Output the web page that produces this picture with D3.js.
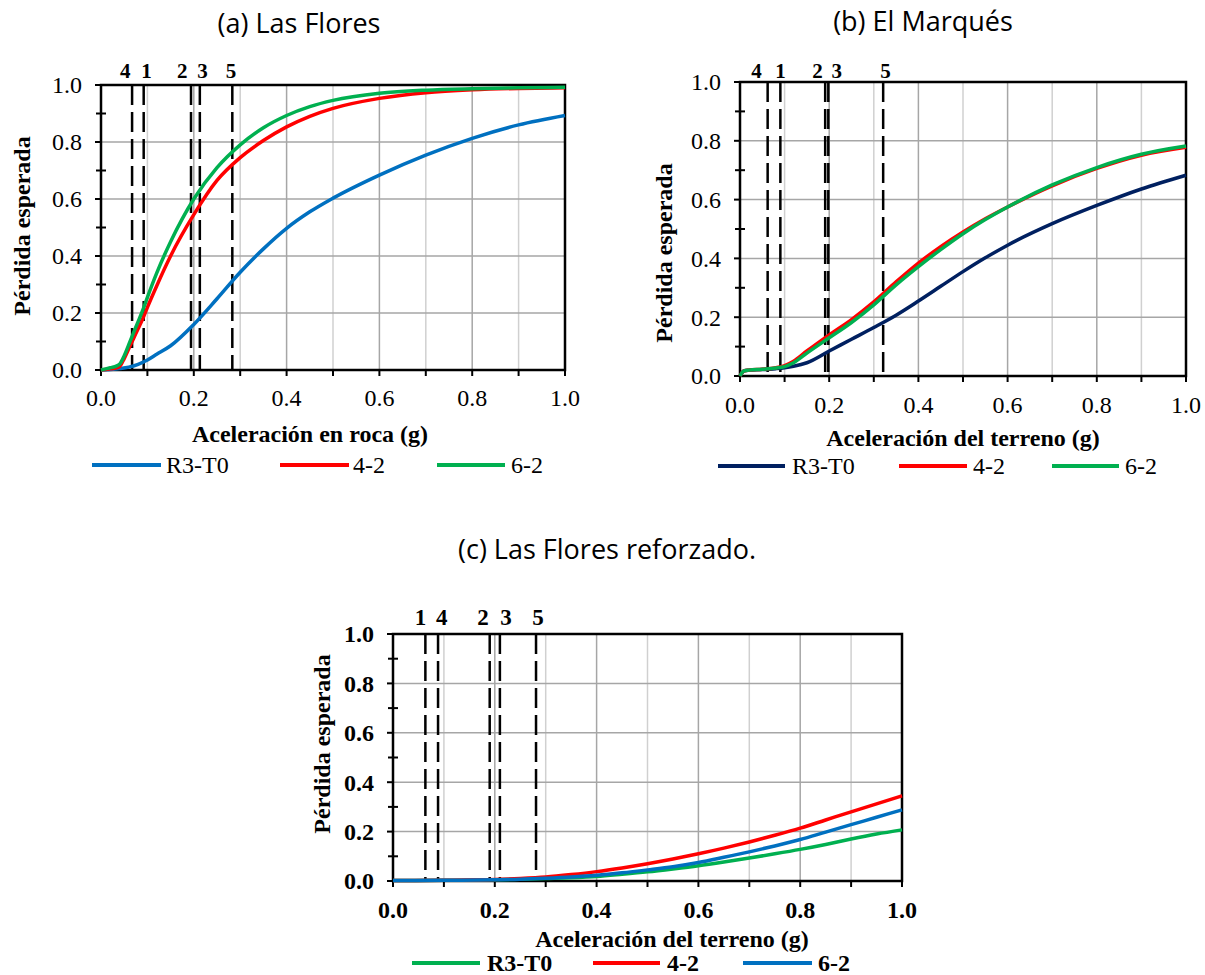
<!DOCTYPE html>
<html><head><meta charset="utf-8">
<script src="https://cdn.jsdelivr.net/npm/d3@7"></script>
<style>body{margin:0;background:#fff} svg{display:block}</style>
</head><body>
<svg id="chart" width="1205" height="975"></svg>
<script>
// ---------------- DATA ----------------
const panelTitles = ["(a) Las Flores", "(b) El Marqués", "(c) Las Flores reforzado."];
const xAxisTitles = ["Aceleración en roca (g)", "Aceleración del terreno (g)", "Aceleración del terreno (g)"];
const yAxisTitle = "Pérdida esperada";
const tickValues = [0, 0.2, 0.4, 0.6, 0.8, 1.0];
const tickLabels = ["0.0", "0.2", "0.4", "0.6", "0.8", "1.0"];

// Panel (a) Las Flores
const aSeriesNames = ["R3-T0", "4-2", "6-2"];
const aX_R3T0 = [0, 0.02, 0.04, 0.06, 0.08, 0.10, 0.12, 0.15, 0.20, 0.25, 0.30, 0.35, 0.40, 0.45, 0.50, 0.60, 0.70, 0.80, 0.90, 1.00];
const aY_R3T0 = [0, 0.002, 0.005, 0.010, 0.020, 0.035, 0.055, 0.085, 0.160, 0.250, 0.343, 0.425, 0.497, 0.555, 0.603, 0.684, 0.754, 0.813, 0.860, 0.893];
const aX_other = [0, 0.02, 0.03, 0.04, 0.05, 0.06, 0.07, 0.08, 0.09, 0.10, 0.12, 0.15, 0.20, 0.25, 0.30, 0.35, 0.40, 0.45, 0.50, 0.60, 0.70, 0.80, 0.90, 1.00];
const aY_42 = [0, 0.004, 0.006, 0.012, 0.040, 0.075, 0.110, 0.145, 0.180, 0.220, 0.295, 0.400, 0.545, 0.665, 0.745, 0.805, 0.853, 0.890, 0.918, 0.953, 0.973, 0.983, 0.988, 0.990];
const aY_62 = [0, 0.008, 0.012, 0.020, 0.050, 0.090, 0.130, 0.170, 0.210, 0.255, 0.340, 0.450, 0.600, 0.710, 0.790, 0.850, 0.893, 0.924, 0.946, 0.971, 0.982, 0.987, 0.990, 0.992];
const aMarkNames = ["4", "1", "2", "3", "5"];
const aMarkX = [0.067, 0.092, 0.194, 0.213, 0.283];
const aMarkLabelX = [0.052, 0.098, 0.175, 0.219, 0.280];

// Panel (b) El Marqués
const bSeriesNames = ["R3-T0", "4-2", "6-2"];
const bX = [0, 0.005, 0.01, 0.02, 0.05, 0.08, 0.10, 0.12, 0.15, 0.20, 0.25, 0.30, 0.35, 0.40, 0.45, 0.50, 0.55, 0.60, 0.70, 0.80, 0.90, 1.00];
const bY_R3T0 = [0, 0.012, 0.018, 0.020, 0.022, 0.025, 0.028, 0.033, 0.045, 0.085, 0.125, 0.165, 0.207, 0.255, 0.305, 0.355, 0.402, 0.445, 0.518, 0.580, 0.636, 0.683];
const bY_42 = [0, 0.012, 0.018, 0.020, 0.023, 0.028, 0.035, 0.050, 0.085, 0.140, 0.192, 0.252, 0.320, 0.384, 0.440, 0.490, 0.535, 0.575, 0.647, 0.706, 0.751, 0.778];
const bY_62 = [0, 0.012, 0.018, 0.020, 0.023, 0.027, 0.032, 0.045, 0.078, 0.130, 0.182, 0.242, 0.310, 0.372, 0.430, 0.484, 0.532, 0.575, 0.650, 0.709, 0.754, 0.782];
const bMarkNames = ["4", "1", "2", "3", "5"];
const bMarkX = [0.062, 0.0905, 0.191, 0.198, 0.321];
const bMarkLabelX = [0.037, 0.091, 0.174, 0.217, 0.326];

// Panel (c) Las Flores reforzado
const cSeriesNames = ["R3-T0", "4-2", "6-2"];
const cX = [0, 0.10, 0.20, 0.25, 0.30, 0.35, 0.40, 0.45, 0.50, 0.55, 0.60, 0.65, 0.70, 0.75, 0.80, 0.85, 0.90, 0.95, 1.00];
const cY_R3T0 = [0.002, 0.003, 0.005, 0.007, 0.010, 0.013, 0.018, 0.027, 0.037, 0.049, 0.062, 0.077, 0.093, 0.110, 0.128, 0.148, 0.170, 0.190, 0.207];
const cY_42 = [0.002, 0.003, 0.006, 0.010, 0.016, 0.026, 0.038, 0.053, 0.070, 0.089, 0.110, 0.133, 0.158, 0.185, 0.214, 0.247, 0.280, 0.312, 0.345];
const cY_62 = [0.002, 0.003, 0.005, 0.007, 0.011, 0.016, 0.023, 0.033, 0.045, 0.058, 0.075, 0.096, 0.118, 0.142, 0.168, 0.198, 0.228, 0.258, 0.288];
const cMarkNames = ["1", "4", "2", "3", "5"];
const cMarkX = [0.0636, 0.0885, 0.190, 0.210, 0.281];
const cMarkLabelX = [0.054, 0.096, 0.177, 0.222, 0.285];

// ---------------- LAYOUT / STYLE ----------------
const BLUE = "#0070C0", RED = "#FF0000", GREEN = "#00B050", NAVY = "#002060";
const SERIF = "'Liberation Serif','Times New Roman',serif";
const SANS = "'Open Sans','Noto Sans',sans-serif";

const panels = [
  { left: 101, right: 565, top: 85, bottom: 370, bold: false,
    title: panelTitles[0], titleX: 299, titleY: 24,
    xTitle: xAxisTitles[0], xTitleX: 310, xTitleY: 434,
    yTitleX: 22, yTitleY: 226, xTickY: 398, legendY: 465, markY: 71, markSize: 21,
    series: [
      { name: aSeriesNames[0], x: aX_R3T0, y: aY_R3T0, color: BLUE, lx: [92, 161, 166] },
      { name: aSeriesNames[1], x: aX_other, y: aY_42, color: RED, lx: [280, 349, 353] },
      { name: aSeriesNames[2], x: aX_other, y: aY_62, color: GREEN, lx: [437, 505, 511] }
    ],
    marks: aMarkNames, markX: aMarkX, markLabelX: aMarkLabelX },
  { left: 740, right: 1186, top: 82, bottom: 376, bold: false,
    title: panelTitles[1], titleX: 923, titleY: 22,
    xTitle: xAxisTitles[1], xTitleX: 963, xTitleY: 438,
    yTitleX: 664, yTitleY: 253, xTickY: 405, legendY: 466, markY: 71, markSize: 21,
    series: [
      { name: bSeriesNames[0], x: bX, y: bY_R3T0, color: NAVY, lx: [718, 785, 792] },
      { name: bSeriesNames[1], x: bX, y: bY_42, color: RED, lx: [899, 967, 973] },
      { name: bSeriesNames[2], x: bX, y: bY_62, color: GREEN, lx: [1052, 1119, 1125] }
    ],
    marks: bMarkNames, markX: bMarkX, markLabelX: bMarkLabelX },
  { left: 393, right: 902, top: 634, bottom: 881, bold: true,
    title: panelTitles[2], titleX: 607, titleY: 550,
    xTitle: xAxisTitles[2], xTitleX: 672, xTitleY: 939,
    yTitleX: 322, yTitleY: 744, xTickY: 910, legendY: 963, markY: 617, markSize: 23,
    series: [
      { name: cSeriesNames[0], x: cX, y: cY_R3T0, color: GREEN, lx: [412, 480, 487] },
      { name: cSeriesNames[1], x: cX, y: cY_42, color: RED, lx: [593, 660, 667] },
      { name: cSeriesNames[2], x: cX, y: cY_62, color: BLUE, lx: [743, 812, 818] }
    ],
    marks: cMarkNames, markX: cMarkX, markLabelX: cMarkLabelX }
];

const svg = d3.select("#chart");
svg.append("rect").attr("width", 1205).attr("height", 975).attr("fill", "#fff");

panels.forEach(p => {
  const g = svg.append("g");
  const x = d3.scaleLinear().domain([0, 1]).range([p.left, p.right]);
  const y = d3.scaleLinear().domain([0, 1]).range([p.bottom, p.top]);
  const tickWeight = p.bold ? "bold" : "normal";

  // title
  g.append("text").attr("x", p.titleX).attr("y", p.titleY).attr("dy", "0.35em")
    .attr("text-anchor", "middle").attr("font-family", SANS).attr("font-size", 27)
    .attr("fill", "#000").text(p.title);

  // vertical gridlines every 0.1
  const vGrid = d3.range(1, 10).map(i => i / 10);
  g.selectAll(".vg").data(vGrid).enter().append("line")
    .attr("x1", d => x(d)).attr("x2", d => x(d))
    .attr("y1", y(0)).attr("y2", y(1))
    .attr("stroke", (d, i) => (i % 2 === 1) ? "#a6a6a6" : "#d0d0d0")
    .attr("stroke-width", 1.5);
  // horizontal gridlines every 0.2
  g.selectAll(".hg").data([0.2, 0.4, 0.6, 0.8]).enter().append("line")
    .attr("x1", x(0)).attr("x2", x(1))
    .attr("y1", d => y(d)).attr("y2", d => y(d))
    .attr("stroke", "#a6a6a6").attr("stroke-width", 1.5);

  // dashed marker lines
  g.selectAll(".mk").data(p.markX).enter().append("line")
    .attr("x1", d => x(d)).attr("x2", d => x(d))
    .attr("y1", y(1)).attr("y2", y(0))
    .attr("stroke", "#000").attr("stroke-width", 2.5)
    .attr("stroke-dasharray", "20,7");
  g.selectAll(".mkl").data(p.marks).enter().append("text")
    .attr("x", (d, i) => x(p.markLabelX[i])).attr("y", p.markY).attr("dy", "0.35em")
    .attr("text-anchor", "middle").attr("font-family", SERIF)
    .attr("font-weight", "bold").attr("font-size", p.markSize).text(d => d);

  // frame
  g.append("rect").attr("x", x(0)).attr("y", y(1))
    .attr("width", x(1) - x(0)).attr("height", y(0) - y(1))
    .attr("fill", "none").attr("stroke", "#000").attr("stroke-width", 2.5);

  // x-axis ticks every 0.1 (outside)
  g.selectAll(".xt").data(d3.range(0, 11).map(i => i / 10)).enter().append("line")
    .attr("x1", d => x(d)).attr("x2", d => x(d))
    .attr("y1", y(0)).attr("y2", y(0) + 6)
    .attr("stroke", "#000").attr("stroke-width", 2);
  // y-axis major ticks outside, minor ticks crossing
  g.selectAll(".ytM").data(tickValues).enter().append("line")
    .attr("x1", x(0) - 6).attr("x2", x(0))
    .attr("y1", d => y(d)).attr("y2", d => y(d))
    .attr("stroke", "#000").attr("stroke-width", 2);
  g.selectAll(".ytm").data([0.1, 0.3, 0.5, 0.7, 0.9]).enter().append("line")
    .attr("x1", x(0) - 5).attr("x2", x(0) + 5)
    .attr("y1", d => y(d)).attr("y2", d => y(d))
    .attr("stroke", "#000").attr("stroke-width", 2);

  // tick labels
  g.selectAll(".xl").data(tickValues).enter().append("text")
    .attr("x", d => x(d)).attr("y", p.xTickY).attr("dy", "0.35em")
    .attr("text-anchor", "middle").attr("font-family", SERIF)
    .attr("font-weight", tickWeight).attr("font-size", 24)
    .text((d, i) => tickLabels[i]);
  g.selectAll(".yl").data(tickValues).enter().append("text")
    .attr("x", x(0) - 19).attr("y", d => y(d)).attr("dy", "0.35em")
    .attr("text-anchor", "end").attr("font-family", SERIF)
    .attr("font-weight", tickWeight).attr("font-size", 24)
    .text((d, i) => tickLabels[i]);

  // axis titles
  g.append("text").attr("x", p.xTitleX).attr("y", p.xTitleY).attr("dy", "0.35em")
    .attr("text-anchor", "middle").attr("font-family", SERIF)
    .attr("font-weight", "bold").attr("font-size", 24).text(p.xTitle);
  g.append("text").attr("transform", `translate(${p.yTitleX},${p.yTitleY}) rotate(-90)`)
    .attr("dy", "0.35em").attr("text-anchor", "middle").attr("font-family", SERIF)
    .attr("font-weight", "bold").attr("font-size", 24).text(yAxisTitle);

  // curves
  const line = d3.line().x(d => x(d[0])).y(d => y(d[1])).curve(d3.curveMonotoneX);
  p.series.forEach(s => {
    const pts = s.x.map((v, i) => [v, s.y[i]]);
    g.append("path").datum(pts).attr("d", line)
      .attr("fill", "none").attr("stroke", s.color).attr("stroke-width", 3.5)
      .attr("stroke-linejoin", "round");
  });

  // legend
  p.series.forEach(s => {
    g.append("line").attr("x1", s.lx[0]).attr("x2", s.lx[1])
      .attr("y1", p.legendY).attr("y2", p.legendY)
      .attr("stroke", s.color).attr("stroke-width", 4);
    g.append("text").attr("x", s.lx[2]).attr("y", p.legendY).attr("dy", "0.35em")
      .attr("font-family", SERIF).attr("font-weight", tickWeight).attr("font-size", 24)
      .text(s.name);
  });
});
</script>
</body></html>
